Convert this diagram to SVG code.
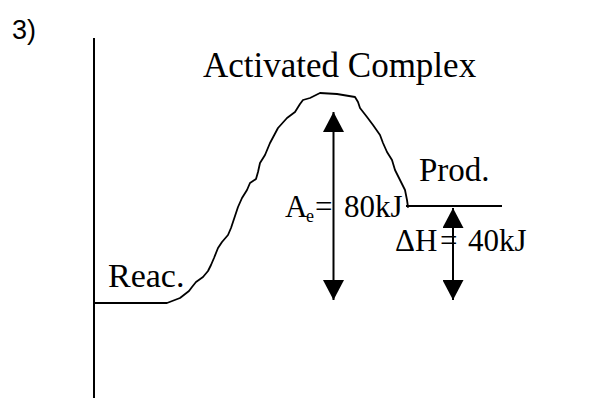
<svg xmlns="http://www.w3.org/2000/svg" width="594" height="398" viewBox="0 0 594 398">
  <style>
    .serif { font-family: "Liberation Serif", "Times New Roman", serif; fill: #000; }
    .sans { font-family: "Liberation Sans", Arial, sans-serif; fill: #000; }
    .ln { stroke: #000; stroke-width: 2; fill: none; }
    .curve { stroke: #000; stroke-width: 1.8; fill: none; stroke-linejoin: round; stroke-linecap: round; }
  </style>
  <defs>
    <marker id="ah" viewBox="0 0 20 21" refX="20" refY="10.5" markerWidth="20" markerHeight="21" markerUnits="userSpaceOnUse" orient="auto-start-reverse">
      <path d="M0,0 L20,10.5 L0,21 Z" fill="#000"/>
    </marker>
  </defs>
  <rect width="594" height="398" fill="#fff"/>

  <text class="sans" x="12" y="39" font-size="27">3)</text>

  <g id="axis">
    <line class="ln" x1="94" y1="38" x2="94" y2="398"/>
  </g>

  <g id="reactants">
    <line class="ln" x1="94" y1="303" x2="167" y2="303"/>
    <text class="serif" x="108" y="287" font-size="34">Reac.</text>
  </g>

  <g id="activated-complex">
    <text class="serif" x="203" y="77" font-size="35">Activated Complex</text>
  </g>

  <g id="products">
    <line class="ln" x1="406" y1="206" x2="502" y2="206"/>
    <text class="serif" x="419" y="181" font-size="33">Prod.</text>
  </g>

  <g id="connectors">
    <polyline class="curve" points="167,303 180,298 189,291 192,287 196,282 203,277 208,271 211,265 214,258 218,248 222,242 228,235 231,228 234,219 238,207 242,198 247,190 250,183 256,179 258,172 260,163 265,155 270,143 278,128 287,118 295,112 300,104 303,100 310,98 320,93 337,94 355,97 358,102 360,108 367,117 373,125 380,135 383,143 387,152 392,160 395,170 400,180 405,190 407,200 408,207"/>
    <line class="ln" x1="333.5" y1="112" x2="333.5" y2="300" marker-start="url(#ah)" marker-end="url(#ah)"/>
    <line class="ln" x1="453" y1="208" x2="453" y2="300" marker-start="url(#ah)" marker-end="url(#ah)"/>
  </g>

  <g id="activation-energy-label">
    <text class="serif" x="285" y="217" font-size="31">A</text>
    <text class="serif" x="306" y="222" font-size="18">e</text>
    <text class="serif" x="315" y="217" font-size="31">=</text>
    <text class="serif" x="344" y="217" font-size="31">80kJ</text>
  </g>

  <g id="enthalpy-label">
    <text class="serif" x="395" y="251" font-size="31">ΔH</text>
    <text class="serif" x="440" y="251" font-size="31">=</text>
    <text class="serif" x="468" y="251" font-size="31">40kJ</text>
  </g>
</svg>
